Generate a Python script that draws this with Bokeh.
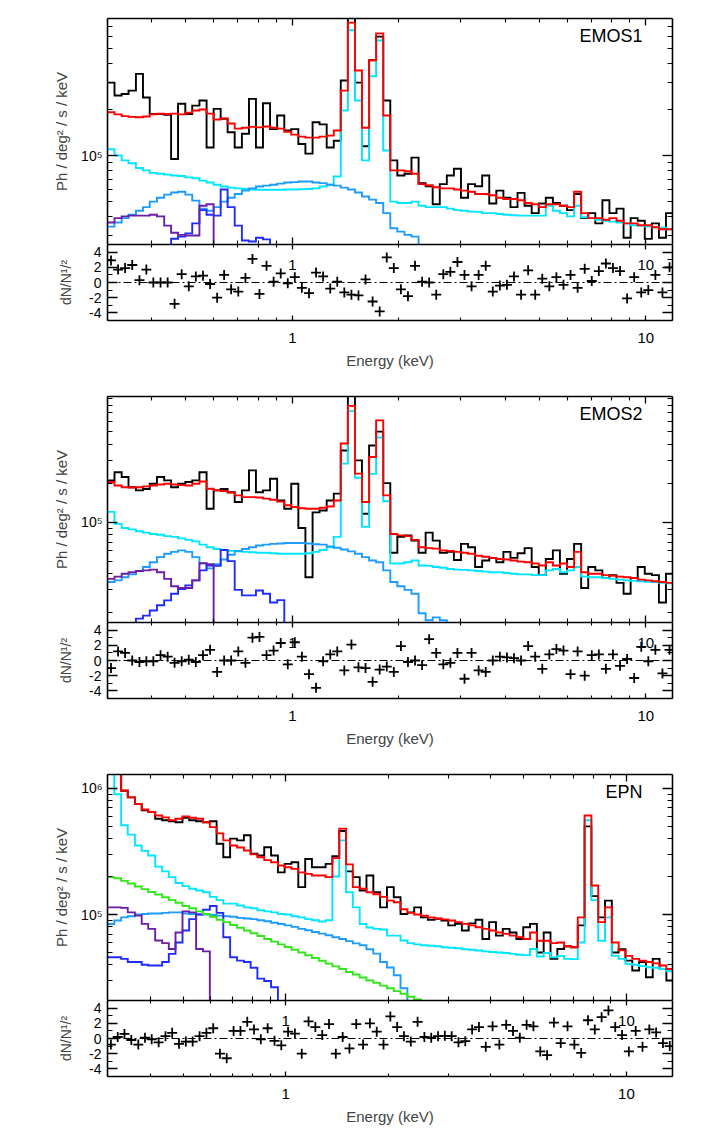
import math
from bokeh.plotting import figure
from bokeh.layouts import column
from bokeh.models import Range1d, FixedTicker, LinearAxis, LogAxis, Span, Label
from bokeh.embed import file_html
from bokeh.resources import INLINE

# ---------------------------------------------------------------- data
# energy bin edges (keV)
edges = [0.300, 0.314, 0.329, 0.344, 0.361, 0.378, 0.395, 0.414, 0.434, 0.454,
         0.475, 0.498, 0.521, 0.546, 0.572, 0.599, 0.627, 0.656, 0.687, 0.720,
         0.754, 0.789, 0.826, 0.865, 0.906, 0.949, 0.993, 1.040, 1.089, 1.141,
         1.194, 1.251, 1.310, 1.371, 1.436, 1.504, 1.574, 1.649, 1.726, 1.808,
         1.893, 1.982, 2.076, 2.173, 2.276, 2.383, 2.495, 2.613, 2.736, 2.865,
         3.000, 3.141, 3.289, 3.444, 3.607, 3.777, 3.955, 4.141, 4.336, 4.541,
         4.755, 4.979, 5.213, 5.459, 5.716, 5.986, 6.268, 6.563, 6.873, 7.197,
         7.536, 7.891, 8.263, 8.652, 9.060, 9.487, 9.934, 10.402, 10.892, 11.406,
         11.943, 12.506, 13.095, 13.713, 14.359]

# ---- EMOS1
mos1_data = [3.0e5, 2.47e5, 2.53e5, 2.66e5, 3.42e5, 2.4e5, 1.87e5, 1.87e5, 1.85e5, 9.5e4,
             2.18e5, 1.87e5, 2.12e5, 2.29e5, 1.13e5, 2.02e5, 1.74e5, 1.42e5, 1.13e5, 1.39e5,
             2.35e5, 1.13e5, 2.2e5, 1.49e5, 1.83e5, 1.46e5, 1.49e5, 1.19e5, 1.03e5, 1.65e5,
             1.6e5, 1.13e5, 1.25e5, 3.1e5, 9.0e5, 3.0e5, 1.15e5, 4.2e5, 6.0e5, 2.29e5,
             9.3e4, 7.4e4, 7.6e4, 9.7e4, 6.6e4, 6.3e4, 4.8e4, 6.5e4, 7.4e4, 8.2e4,
             5.3e4, 6.5e4, 6.3e4, 7.4e4, 4.86e4, 5.9e4, 5.3e4, 4.6e4, 5.7e4, 4.7e4,
             4.2e4, 4.86e4, 5.3e4, 4.9e4, 4.7e4, 4.4e4, 5.6e4, 3.9e4, 4.2e4, 3.6e4,
             5.1e4, 4.2e4, 4.5e4, 2.9e4, 3.9e4, 3.75e4, 2.85e4, 3.6e4, 2.9e4, 4.2e4]
mos1_model = [1.92e5, 1.86e5, 1.81e5, 1.79e5, 1.78e5, 1.8e5, 1.86e5, 1.88e5, 1.87e5, 1.88e5,
              1.86e5, 1.91e5, 1.97e5, 2.0e5, 1.88e5, 1.72e5, 1.75e5, 1.62e5, 1.5e5, 1.52e5,
              1.54e5, 1.53e5, 1.55e5, 1.52e5, 1.5e5, 1.43e5, 1.37e5, 1.33e5, 1.31e5, 1.31e5,
              1.33e5, 1.35e5, 1.46e5, 2.66e5, 7.4e5, 3.6e5, 1.52e5, 4.2e5, 6.3e5, 1.83e5,
              8.0e4, 8.0e4, 7.9e4, 7.6e4, 6.5e4, 6.4e4, 6.2e4, 6.1e4, 6.1e4, 6.0e4,
              5.9e4, 5.8e4, 5.6e4, 5.6e4, 5.5e4, 5.3e4, 5.2e4, 5.2e4, 5.1e4, 4.9e4,
              4.8e4, 4.6e4, 4.8e4, 4.8e4, 4.7e4, 4.6e4, 5.8e4, 4.2e4, 3.9e4, 3.9e4,
              3.8e4, 3.9e4, 3.75e4, 3.6e4, 3.6e4, 3.5e4, 3.5e4, 3.4e4, 3.3e4, 3.3e4]
mos1_cyan = [1.1e5, 1.0e5, 9.3e4, 8.9e4, 8.3e4, 8.0e4, 7.7e4, 7.6e4, 7.5e4, 7.4e4,
             7.35e4, 7.2e4, 7.1e4, 6.86e4, 6.66e4, 6.45e4, 6.27e4, 6.17e4, 6.1e4, 6.05e4,
             6.0e4, 5.98e4, 5.97e4, 5.97e4, 5.98e4, 6.0e4, 6.0e4, 6.02e4, 6.05e4, 6.1e4,
             6.27e4, 6.45e4, 7.3e4, 1.97e5, 6.6e5, 2.29e5, 9.3e4, 3.3e5, 5.66e5, 1.08e5,
             5.0e4, 4.9e4, 4.9e4, 5.0e4, 4.7e4, 4.6e4, 4.6e4, 4.6e4, 4.5e4, 4.4e4,
             4.36e4, 4.3e4, 4.28e4, 4.2e4, 4.2e4, 4.15e4, 4.1e4, 4.07e4, 4.05e4, 4.05e4,
             4.05e4, 4.05e4, 4.7e4, 4.36e4, 4.2e4, 4.0e4, 4.7e4, 3.95e4, 3.9e4, 3.8e4,
             3.75e4, 3.7e4, 3.65e4, 3.6e4, 3.5e4, 3.48e4, 3.45e4, 3.4e4, 3.37e4, 3.3e4]
mos1_broad = [3.43e4, 3.65e4, 3.9e4, 4.1e4, 4.36e4, 4.6e4, 5.0e4, 5.3e4, 5.55e4, 5.73e4,
              5.8e4, 5.55e4, 5.07e4, 4.5e4, 4.36e4, 4.6e4, 5.0e4, 5.3e4, 5.6e4, 5.9e4,
              6.1e4, 6.27e4, 6.36e4, 6.45e4, 6.55e4, 6.66e4, 6.7e4, 6.76e4, 6.76e4, 6.66e4,
              6.6e4, 6.45e4, 6.36e4, 6.17e4, 6.0e4, 5.73e4, 5.4e4, 5.15e4, 4.9e4, 4.2e4,
              3.35e4, 3.18e4, 3.03e4, 2.95e4]
mos1_blue_first = 9
mos1_blue = [2.86e4, 2.95e4, 3.1e4, 3.6e4, 4.4e4, 4.1e4, 4.05e4, 6.0e4, 4.6e4, 3.48e4,
             2.78e4, 2.74e4, 2.9e4, 2.83e4]
mos1_purple = [3.65e4, 3.9e4, 4.0e4, 4.05e4, 4.05e4, 4.05e4, 4.1e4, 4.0e4, 3.48e4, 3.13e4,
               3.03e4, 3.0e4, 3.0e4, 4.7e4, 4.8e4]
mos1_resid = [2.9, 1.7, 1.9, 2.3, 0.3, 1.7, 0.0, 0.0, 0.0, -2.8,
              1.1, -0.5, 0.8, 0.9, -0.2, -2.0, 1.0, -0.9, -1.2, 0.6,
              3.1, -1.5, 2.2, 0.1, 1.2, -0.1, 0.7, -0.7, -1.4, 1.3,
              0.8, -0.8, 0.1, -1.3, -1.6, -1.7, 0.4, -2.5, -3.8, 3.3,
              1.9, -0.9, -1.8, 2.2, 0.1, 0.0, -1.6, 1.1, 1.4, 2.7,
              1.0, -0.5, 1.0, 2.2, -1.2, -0.4, -0.3, 0.8, -1.6, 1.6,
              -1.6, 0.5, -0.5, 0.7, -0.3, 1.0, -0.7, 1.8, 0.2, 1.5,
              2.5, 1.9, 1.5, -2.1, 0.7, -1.3, -1.0, 1.0, -1.3, 2.0]

# ---- EMOS2
mos2_data = [2.1e5, 2.43e5, 2.23e5, 1.86e5, 1.76e5, 1.8e5, 1.98e5, 2.23e5, 2.1e5, 1.86e5,
             1.98e5, 2.04e5, 2.1e5, 2.43e5, 1.27e5, 1.76e5, 1.8e5, 1.7e5, 1.43e5, 1.76e5,
             2.51e5, 1.7e5, 1.76e5, 2.16e5, 1.47e5, 1.27e5, 1.98e5, 9.0e4, 3.76e4, 1.19e5,
             1.23e5, 1.47e5, 1.66e5, 3.57e5, 9.5e5, 3.0e5, 1.16e5, 3.9e5, 5.0e5, 2.0e5,
             5.8e4, 7.7e4, 7.9e4, 7.2e4, 5.8e4, 8.3e4, 7.2e4, 5.8e4, 5.9e4, 5.1e4,
             6.8e4, 6.4e4, 4.5e4, 5.06e4, 5.3e4, 4.9e4, 5.9e4, 5.3e4, 5.75e4, 6.3e4,
             4.5e4, 3.9e4, 5.2e4, 6.05e4, 4.0e4, 5.2e4, 6.8e4, 3.1e4, 4.5e4, 4.24e4,
             3.7e4, 3.9e4, 3.4e4, 2.8e4, 3.7e4, 4.5e4, 4.0e4, 3.9e4, 2.4e4, 4.0e4]
mos2_model = [2.04e5, 1.92e5, 1.86e5, 1.85e5, 1.86e5, 1.89e5, 1.92e5, 1.95e5, 1.98e5, 1.95e5,
              1.93e5, 1.92e5, 1.98e5, 2.06e5, 1.81e5, 1.76e5, 1.74e5, 1.69e5, 1.61e5, 1.56e5,
              1.56e5, 1.55e5, 1.52e5, 1.49e5, 1.44e5, 1.35e5, 1.31e5, 1.28e5, 1.27e5, 1.27e5,
              1.29e5, 1.32e5, 1.47e5, 4.05e5, 7.9e5, 2.37e5, 1.43e5, 3.18e5, 6.1e5, 1.61e5,
              8.1e4, 7.9e4, 7.8e4, 7.3e4, 6.4e4, 6.3e4, 6.25e4, 6.05e4, 6.0e4, 5.9e4,
              5.8e4, 5.7e4, 5.5e4, 5.4e4, 5.3e4, 5.2e4, 5.15e4, 5.06e4, 4.96e4, 4.9e4,
              4.8e4, 4.63e4, 4.9e4, 4.63e4, 4.8e4, 4.5e4, 5.9e4, 4.1e4, 4.0e4, 4.0e4,
              3.9e4, 3.85e4, 3.8e4, 3.75e4, 3.7e4, 3.6e4, 3.55e4, 3.5e4, 3.45e4, 3.4e4]
mos2_cyan = [1.2e5, 9.7e4, 9.0e4, 8.8e4, 8.5e4, 8.3e4, 8.1e4, 8.0e4, 7.8e4, 7.7e4,
             7.5e4, 7.3e4, 7.1e4, 6.7e4, 6.4e4, 6.2e4, 6.1e4, 6.0e4, 5.95e4, 5.9e4,
             5.85e4, 5.8e4, 5.8e4, 5.75e4, 5.7e4, 5.7e4, 5.7e4, 5.7e4, 5.75e4, 5.9e4,
             6.1e4, 6.4e4, 7.7e4, 2.83e5, 7.2e5, 2.2e5, 9.2e4, 2.36e5, 4.5e5, 1.45e5,
             4.8e4, 4.8e4, 4.9e4, 5.06e4, 4.63e4, 4.6e4, 4.5e4, 4.45e4, 4.35e4, 4.3e4,
             4.28e4, 4.24e4, 4.2e4, 4.15e4, 4.1e4, 4.1e4, 4.05e4, 4.0e4, 3.95e4, 3.95e4,
             3.9e4, 3.9e4, 4.24e4, 4.35e4, 4.1e4, 4.24e4, 4.5e4, 3.8e4, 3.75e4, 3.75e4,
             3.7e4, 3.65e4, 3.6e4, 3.55e4, 3.52e4, 3.5e4, 3.47e4, 3.45e4, 3.4e4, 3.37e4]
mos2_broad = [3.45e4, 3.55e4, 3.76e4, 3.95e4, 4.2e4, 4.5e4, 4.9e4, 5.37e4, 5.7e4, 5.9e4,
              6.05e4, 5.9e4, 5.37e4, 4.8e4, 4.4e4, 4.73e4, 5.15e4, 5.6e4, 6.0e4, 6.2e4,
              6.4e4, 6.6e4, 6.7e4, 6.8e4, 6.85e4, 6.9e4, 6.9e4, 6.9e4, 6.85e4, 6.75e4,
              6.7e4, 6.5e4, 6.35e4, 6.15e4, 5.95e4, 5.7e4, 5.37e4, 5.06e4, 4.9e4, 4.24e4,
              3.45e4, 3.2e4, 3.0e4, 2.8e4, 1.98e4, 1.75e4, 1.84e4, 1.75e4]
mos2_blue_first = 4
mos2_blue = [1.8e4, 1.9e4, 2.08e4, 2.28e4, 2.49e4, 2.8e4, 3.05e4, 3.25e4, 3.55e4, 4.24e4,
             4.63e4, 4.6e4, 6.1e4, 5.0e4, 3.0e4, 2.72e4, 2.72e4, 2.97e4, 2.8e4, 2.4e4, 2.5e4]
mos2_purple = [3.65e4, 3.8e4, 4.0e4, 4.1e4, 4.2e4, 4.24e4, 4.3e4, 4.1e4, 3.65e4, 3.2e4,
               3.1e4, 3.1e4, 3.55e4, 4.83e4, 4.73e4]
mos2_resid = [-1.0, 1.2, 1.0, 0.0, -0.2, -0.1, -0.1, 0.7, 0.5, -0.3,
              -0.1, 0.1, -0.2, 0.7, 1.4, -1.5, 0.0, 0.0, 1.2, -0.3,
              3.0, 3.1, 0.7, 1.3, 2.3, -0.5, 2.4, 0.5, -1.8, -3.6,
              -0.1, 0.8, 1.2, -1.3, 2.1, -0.9, -1.0, -2.8, -1.2, -0.8,
              -1.5, 1.9, -0.2, 0.0, -0.6, 2.8, 1.0, -0.5, -0.3, 1.0,
              -2.4, 1.0, -1.3, -1.5, 0.0, 0.5, 0.4, 0.3, 0.0, 1.9,
              0.5, -1.1, 0.8, 1.5, 1.3, -1.8, 1.2, -2.0, 0.7, 0.8,
              -1.1, 0.8, -0.7, 0.2, -2.3, 1.8, -0.1, 1.4, -1.7, 1.4]

# ---- EPN
pn_data = [1.4e6, 1.3e6, 9.6e5, 8.5e5, 7.55e5, 6.7e5, 6.5e5, 5.75e5, 5.6e5, 5.5e5,
           5.4e5, 5.85e5, 5.6e5, 5.5e5, 5.4e5, 5.5e5, 3.64e5, 2.85e5, 4.0e5, 3.87e5,
           4.25e5, 3.03e5, 2.94e5, 3.42e5, 2.94e5, 2.16e5, 2.52e5, 2.6e5, 1.65e5, 2.76e5,
           2.37e5, 2.37e5, 2.52e5, 2.9e5, 4.6e5, 2.2e5, 1.98e5, 1.55e5, 2.04e5, 1.5e5,
           1.14e5, 1.65e5, 1.37e5, 1.01e5, 1.04e5, 1.14e5, 9.5e4, 9.1e4, 9.25e4, 8.96e4,
           8.2e4, 8.43e4, 7.46e4, 8.5e4, 9.1e4, 6.4e4, 8.7e4, 6.8e4, 7.7e4, 7.2e4,
           6.4e4, 7.93e4, 8.43e4, 5.0e4, 7.2e4, 4.45e4, 5.33e4, 5.6e4, 5.5e4, 8.2e4,
           5.0e5, 1.4e5, 9.5e4, 1.29e5, 5.0e4, 5.3e4, 4.31e4, 3.6e4, 4.2e4, 3.18e4,
           4.45e4, 3.7e4, 3.0e4]
pn_model = [1.5e6, 1.35e6, 9.64e5, 8.5e5, 7.55e5, 6.8e5, 6.5e5, 6.1e5, 5.9e5, 5.6e5,
            5.75e5, 6.0e5, 5.85e5, 5.75e5, 5.4e5, 4.93e5, 4.4e5, 3.87e5, 3.53e5, 3.4e5,
            3.22e5, 3.0e5, 2.85e5, 2.7e5, 2.6e5, 2.45e5, 2.37e5, 2.3e5, 2.16e5, 2.1e5,
            2.04e5, 2.04e5, 1.98e5, 2.8e5, 4.8e5, 2.5e5, 1.65e5, 1.6e5, 1.5e5, 1.45e5,
            1.38e5, 1.29e5, 1.25e5, 1.1e5, 1.03e5, 1.0e5, 9.8e4, 9.5e4, 9.3e4, 9.15e4,
            8.96e4, 8.7e4, 8.43e4, 8.2e4, 7.93e4, 7.7e4, 7.46e4, 7.2e4, 7.02e4, 6.8e4,
            6.6e4, 6.4e4, 7.2e4, 6.2e4, 6.2e4, 5.93e4, 6.0e4, 5.6e4, 5.5e4, 9.5e4,
            6.1e5, 1.7e5, 8.7e4, 1.14e5, 6.0e4, 5.2e4, 4.7e4, 4.45e4, 4.3e4, 4.2e4,
            4.1e4, 3.94e4, 3.7e4]
pn_cyan = [1.4e6, 9.0e5, 5.1e5, 4.3e5, 3.53e5, 3.2e5, 2.94e5, 2.4e5, 2.2e5, 1.98e5,
           1.78e5, 1.68e5, 1.6e5, 1.55e5, 1.5e5, 1.38e5, 1.3e5, 1.22e5, 1.22e5, 1.18e5,
           1.14e5, 1.12e5, 1.08e5, 1.06e5, 1.04e5, 1.01e5, 1.0e5, 9.7e4, 9.5e4, 9.2e4,
           9.0e4, 8.8e4, 9.0e4, 2.0e5, 3.87e5, 1.5e5, 1.14e5, 8.4e4, 7.9e4, 7.7e4,
           7.6e4, 6.8e4, 6.8e4, 6.22e4, 5.93e4, 5.8e4, 5.7e4, 5.65e4, 5.6e4, 5.5e4,
           5.45e4, 5.4e4, 5.3e4, 5.25e4, 5.18e4, 5.1e4, 5.05e4, 5.0e4, 4.95e4, 4.87e4,
           4.8e4, 4.76e4, 5.33e4, 4.65e4, 4.95e4, 4.58e4, 4.7e4, 4.45e4, 4.43e4, 6.0e4,
           5.6e5, 1.3e5, 6.2e4, 9.5e4, 4.7e4, 4.45e4, 4.06e4, 4.0e4, 3.9e4, 3.82e4,
           3.78e4, 3.7e4, 3.55e4]
pn_broad = [8.4e4, 8.96e4, 9.5e4, 9.7e4, 1.0e5, 1.01e5, 1.02e5, 1.02e5, 1.03e5, 1.04e5,
            1.04e5, 1.02e5, 1.01e5, 1.0e5, 1.0e5, 9.9e4, 9.8e4, 9.7e4, 9.6e4, 9.4e4,
            9.3e4, 9.2e4, 9.0e4, 8.85e4, 8.6e4, 8.4e4, 8.2e4, 7.98e4, 7.7e4, 7.5e4,
            7.27e4, 7.05e4, 6.85e4, 6.6e4, 6.4e4, 6.15e4, 5.9e4, 5.7e4, 5.3e4, 4.9e4,
            4.2e4, 3.8e4, 3.3e4, 2.6e4]
pn_green = [1.98e5, 1.94e5, 1.85e5, 1.76e5, 1.67e5, 1.59e5, 1.51e5, 1.44e5, 1.37e5, 1.3e5,
            1.24e5, 1.17e5, 1.12e5, 1.06e5, 1.01e5, 9.6e4, 9.1e4, 8.7e4, 8.25e4, 7.85e4,
            7.46e4, 7.1e4, 6.75e4, 6.4e4, 6.1e4, 5.8e4, 5.52e4, 5.25e4, 5.0e4, 4.75e4,
            4.52e4, 4.3e4, 4.08e4, 3.88e4, 3.7e4, 3.5e4, 3.34e4, 3.17e4, 3.0e4, 2.87e4,
            2.73e4, 2.6e4, 2.47e4, 2.35e4, 2.23e4, 2.12e4]
pn_blue_first = 0
pn_blue = [4.58e4, 4.58e4, 4.45e4, 4.2e4, 4.2e4, 4.0e4, 3.94e4, 3.94e4, 4.2e4, 4.87e4,
           6.0e4, 7.46e4, 9.2e4, 1.0e5, 1.09e5, 1.17e5, 1.03e5, 6.6e4, 4.58e4, 4.31e4,
           4.2e4, 3.78e4, 3.1e4, 2.97e4, 2.65e4]
pn_purple = [1.14e5, 1.14e5, 1.13e5, 1.04e5, 9.8e4, 8.43e4, 7.7e4, 6.22e4, 5.93e4, 5.33e4,
             7.2e4, 1.06e5, 1.04e5, 5.33e4, 5.1e4]
pn_resid = [-0.8, 0.2, 0.6, -0.2, -0.8, 0.1, -0.1, -0.5, 0.3, 0.75,
            -0.7, -0.4, -0.4, 0.3, 0.75, 1.35, -2.0, -2.6, 1.0, 1.0,
            2.2, 1.2, -0.1, 1.35, -0.3, -0.9, 0.9, 0.65, -2.0, 2.25,
            1.5, 0.45, 1.9, -2.0, 0.2, -1.3, 1.9, -0.8, 2.0, 0.9,
            -0.8, 2.9, 1.5, 0.3, -0.4, 2.2, 0.2, 0.1, 0.3, 0.35,
            0.3, -0.5, -0.35, 1.2, 1.5, -1.1, 1.6, -0.8, 1.8, 1.0,
            0.1, 1.8, 1.6, -1.7, -2.2, 2.1, -0.6, 1.6, -0.8, -1.9,
            2.4, 1.2, 2.8, 3.7, 1.5, 0.45, -1.7, 1.0, -1.1, 1.2,
            0.8, -0.6, -1.0]

# axis tick values
x_major = [1, 10]
x_minor = [0.3, 0.4, 0.5, 0.6, 0.7, 0.8, 0.9, 2, 3, 4, 5, 6, 7, 8, 9, 20]
r_major = [-4, -2, 0, 2, 4]
r_minor = [-5, -3, -1, 1, 3, 5]

# ---------------------------------------------------------------- style
FONT = "Liberation Sans"
FLOOR = 1.0
LB, RB = 107, 16
FRAME_W = 565
W = LB + FRAME_W + RB
MAIN_H, RES_FH = 226, 76
C_DATA, C_MODEL = "black", "#ff0000"
C_CYAN, C_BROAD, C_BLUE = "#00e6ff", "#1e9bff", "#1f2bff"
C_PURPLE, C_GREEN = "#6b1fa6", "#33e61a"
LW = 1.9


def step_xy(vals, first=0, drop_start=False, drop_end=True):
    xs, ys = [], []
    if drop_start:
        xs.append(edges[first]); ys.append(FLOOR)
    for i, v in enumerate(vals):
        xs += [edges[first + i], edges[first + i + 1]]
        ys += [v, v]
    if drop_end:
        xs.append(edges[first + len(vals)]); ys.append(FLOOR)
    return xs, ys


def axis_style(maj, mnr, labels=False, size="14px", standoff=0):
    d = dict(axis_line_color="black", axis_line_width=1.6,
             major_tick_line_color="black", major_tick_line_width=1.3,
             minor_tick_line_color="black", minor_tick_line_width=1.1,
             major_tick_in=maj, major_tick_out=0, minor_tick_in=mnr, minor_tick_out=0,
             major_label_standoff=standoff)
    if labels:
        d.update(major_label_text_font=FONT, major_label_text_font_size=size,
                 major_label_text_color="black")
    else:
        d.update(major_label_text_font_size="1px", major_label_text_alpha=0)
    return d


def base_fig(height, ytype, xend, yr, bottom, top):
    p = figure(width=W, height=height, x_axis_type="log", y_axis_type=ytype,
               x_range=Range1d(0.3, xend), y_range=Range1d(*yr),
               x_axis_location=None, y_axis_location=None,
               output_backend="svg", toolbar_location=None,
               min_border_left=LB, min_border_right=RB, min_border_top=top,
               min_border_bottom=bottom,
               background_fill_color="white", border_fill_color="white")
    p.outline_line_color = None
    p.grid.visible = False
    p.title.visible = False
    return p


def make_main(xend, yr, ymajor, yminor, ylabels, name, curves, top):
    p = base_fig(MAIN_H + top, "log", xend, yr, 0, top)
    xt = FixedTicker(ticks=x_major, minor_ticks=x_minor)
    yt = FixedTicker(ticks=ymajor, minor_ticks=yminor)
    p.add_layout(LogAxis(ticker=xt, **axis_style(7, 4)), "below")
    p.add_layout(LogAxis(ticker=xt, **axis_style(7, 4)), "above")
    p.add_layout(LogAxis(ticker=yt, **axis_style(10, 5)), "right")
    left = LogAxis(ticker=yt, major_label_overrides=ylabels,
                   axis_label="Ph / deg² / s / keV", axis_label_text_font=FONT,
                   axis_label_text_font_size="15px", axis_label_text_font_style="normal",
                   axis_label_standoff=8, **axis_style(10, 5, True, "14px", 5))
    p.add_layout(left, "left")
    for xs, ys, col in curves:
        p.line(xs, ys, line_color=col, line_width=LW, line_join="miter")
    p.add_layout(Label(x=FRAME_W - 30, y=MAIN_H - 17, x_units="screen", y_units="screen",
                       text=name, text_align="right", text_baseline="middle",
                       text_font=FONT, text_font_size="18px", text_color="black"))
    return p


def make_resid(xend, resid, bottom):
    p = base_fig(RES_FH + bottom, "linear", xend, (-5, 5), bottom, 0)
    xt = FixedTicker(ticks=x_major, minor_ticks=x_minor)
    yt = FixedTicker(ticks=r_major, minor_ticks=r_minor)
    below = LogAxis(ticker=xt, major_label_overrides={1: "1", 10: "10"},
                    axis_label="Energy (keV)", axis_label_text_font=FONT,
                    axis_label_text_font_size="15px", axis_label_text_font_style="normal",
                    axis_label_standoff=6, **axis_style(5, 3, True, "15px", 12))
    p.add_layout(below, "below")
    p.add_layout(LogAxis(ticker=xt, **axis_style(5, 3)), "above")
    p.add_layout(LinearAxis(ticker=yt, **axis_style(10, 5)), "right")
    left = LinearAxis(ticker=yt,
                      major_label_overrides={-4: "-4", -2: "-2", 0: "0", 2: "2", 4: "4"},
                      axis_label="dN/N¹/²", axis_label_text_font=FONT,
                      axis_label_text_font_size="14px", axis_label_text_font_style="normal",
                      axis_label_standoff=12, **axis_style(10, 5, True, "14px", 6))
    p.add_layout(left, "left")
    p.add_layout(Span(location=0, dimension="width", line_color="black",
                      line_width=1, line_dash="8 3 2 3"))
    n = len(resid)
    cx = [math.sqrt(edges[k] * edges[k + 1]) for k in range(n)]
    p.scatter(cx, resid, marker="cross", size=10, line_color="black", line_width=1.8)
    for xv, txt in ((1, "1"), (10, "10")):
        p.add_layout(Label(x=xv, y=2.3, text=txt, text_align="center",
                           text_baseline="middle", text_font=FONT,
                           text_font_size="15px", text_color="black"))
    return p


def curves_for(data, model, cyan, broad, blue_first, blue, purple, green=None):
    out = [step_xy(data) + (C_DATA,),
           step_xy(cyan) + (C_CYAN,),
           step_xy(broad) + (C_BROAD,),
           step_xy(blue, blue_first, drop_start=blue_first > 0) + (C_BLUE,),
           step_xy(purple) + (C_PURPLE,)]
    if green is not None:
        out.append(step_xy(green) + (C_GREEN,))
    out.append(step_xy(model) + (C_MODEL,))
    return out


mos_minor1 = [3e4, 4e4, 5e4, 6e4, 7e4, 8e4, 9e4, 2e5, 3e5, 4e5, 5e5, 6e5, 7e5]
mos_minor2 = [2e4, 3e4, 4e4, 5e4, 6e4, 7e4, 8e4, 9e4, 2e5, 3e5, 4e5, 5e5, 6e5, 7e5, 8e5, 9e5]
pn_minor = [3e4, 4e4, 5e4, 6e4, 7e4, 8e4, 9e4, 2e5, 3e5, 4e5, 5e5, 6e5, 7e5, 8e5, 9e5]

MOS_XEND = 11.9
PN_XEND = 13.65

a1 = make_main(MOS_XEND, (2.62e4, 7.88e5), [1e5], mos_minor1, {1e5: "10⁵"}, "EMOS1",
               curves_for(mos1_data, mos1_model, mos1_cyan, mos1_broad,
                          mos1_blue_first, mos1_blue, mos1_purple), 18)
r1 = make_resid(MOS_XEND, mos1_resid, 66)
a2 = make_main(MOS_XEND, (1.68e4, 9.33e5), [1e5], mos_minor2, {1e5: "10⁵"}, "EMOS2",
               curves_for(mos2_data, mos2_model, mos2_cyan, mos2_broad,
                          mos2_blue_first, mos2_blue, mos2_purple), 10)
r2 = make_resid(MOS_XEND, mos2_resid, 66)
a3 = make_main(PN_XEND, (2.08e4, 1.29e6), [1e5, 1e6], pn_minor,
               {1e5: "10⁵", 1e6: "10⁶"}, "EPN",
               curves_for(pn_data, pn_model, pn_cyan, pn_broad,
                          pn_blue_first, pn_blue, pn_purple, pn_green), 10)
r3 = make_resid(PN_XEND, pn_resid, 54)

layout = column(a1, r1, a2, r2, a3, r3, spacing=0)
open("out.html", "w").write(file_html(layout, INLINE, "spectra"))
